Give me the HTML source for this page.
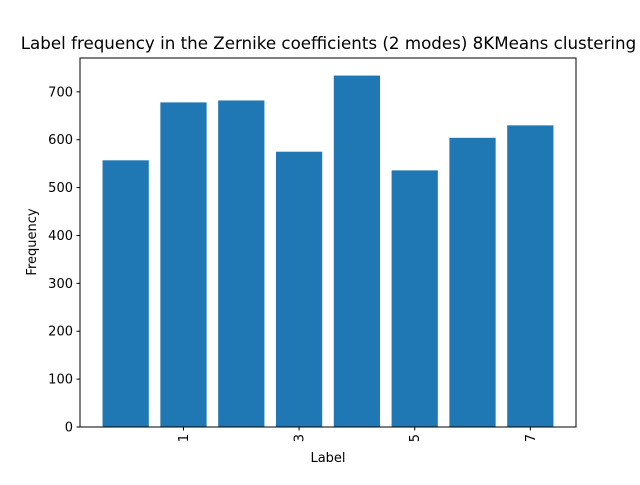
<!DOCTYPE html>
<html><head><meta charset="utf-8"><style>
body{margin:0;background:#fff;}
svg text{font-family:"DejaVu Sans","Liberation Sans",sans-serif;fill:#000;}
</style></head><body>
<svg id="chart" width="640" height="480" xmlns="http://www.w3.org/2000/svg">
<rect width="640" height="480" fill="#fff"/>
<g id="bars"></g>
<g id="axes"></g>
</svg>
<script>
const categories = [0, 1, 2, 3, 4, 5, 6, 7];
const frequencies = [557, 678, 682, 575, 734, 536, 604, 630];
const xTickLabels = [1, 3, 5, 7];
const yTickLabels = [0, 100, 200, 300, 400, 500, 600, 700];

const L = 80, R = 576, T = 58, B = 427;
const xmin = -0.79, xmax = 7.79;
const ymax = Math.max(...frequencies) * 1.05;
const xs = v => L + (v - xmin) / (xmax - xmin) * (R - L);
const ys = v => B - v / ymax * (B - T);
const NS = "http://www.w3.org/2000/svg";
const bars = document.getElementById('bars');
const axes = document.getElementById('axes');
function mk(tag, attrs, parent) {
  const e = document.createElementNS(NS, tag);
  for (const k in attrs) e.setAttribute(k, attrs[k]);
  parent.appendChild(e);
  return e;
}
categories.forEach((c, i) => {
  const x0 = xs(c - 0.4), x1 = xs(c + 0.4);
  const r = mk('rect', {x: x0, y: ys(frequencies[i]), width: x1 - x0, height: B - ys(frequencies[i]), fill: '#1f77b4'}, bars);
  
  
});
const frame = mk('rect', {x: L, y: T, width: R - L, height: B - T, fill: 'none', stroke: '#000', 'stroke-width': 1}, axes);


yTickLabels.forEach(v => {
  const y = ys(v);
  mk('line', {x1: L - 3.5, x2: L, y1: y, y2: y, stroke: '#000'}, axes);
  const t = mk('text', {x: L - 7, y: y + 4.5, 'text-anchor': 'end', 'font-size': 13}, axes);
  t.textContent = v;
  
  
});
xTickLabels.forEach(v => {
  const x = xs(v);
  mk('line', {x1: x, x2: x, y1: B, y2: B + 3.5, stroke: '#000'}, axes);
  const t = mk('text', {x: 0, y: 0, 'text-anchor': 'end', 'font-size': 13, transform: `translate(${x + 4.5},${B + 7}) rotate(-90)`}, axes);
  t.textContent = v;
  
  
});
const title = mk('text', {x: 328.5, y: 49, 'text-anchor': 'middle', 'font-size': 16.7}, axes);
title.textContent = 'Label frequency in the Zernike coefficients (2 modes) 8KMeans clustering';


const xl = mk('text', {x: 328, y: 462, 'text-anchor': 'middle', 'font-size': 13}, axes);
xl.textContent = 'Label';


const yl = mk('text', {x: 0, y: 0, 'text-anchor': 'middle', 'font-size': 13, transform: 'translate(36,242) rotate(-90)'}, axes);
yl.textContent = 'Frequency';


</script>
</body></html>
